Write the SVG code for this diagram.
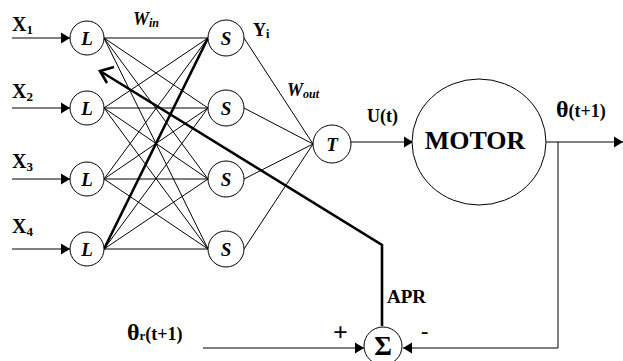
<svg xmlns="http://www.w3.org/2000/svg" width="623" height="361" viewBox="0 0 623 361">
<defs>
<style>
text{font-family:"Liberation Serif","Times New Roman",serif;font-weight:bold;fill:#000}
.node{fill:#fff;stroke:#000;stroke-width:1}
.nl{font-style:italic;font-size:19px;text-anchor:middle}
.w{fill:none;stroke:#000;stroke-width:1}
.thick{fill:none;stroke:#000;stroke-width:2.6}
.lbl{font-size:20px}
.sub{font-size:13px}
</style>
<marker id="ah" viewBox="0 0 10 12" refX="10" refY="6" markerWidth="9" markerHeight="12" markerUnits="userSpaceOnUse" orient="auto">
<path d="M0,0 L10,6 L0,12 z" fill="#000"/>
</marker>
</defs>

<g id="connectors">
<line class="w" x1="12" y1="38" x2="70" y2="38" marker-end="url(#ah)"/>
<line class="w" x1="12" y1="108" x2="70" y2="108" marker-end="url(#ah)"/>
<line class="w" x1="12" y1="179" x2="70" y2="179" marker-end="url(#ah)"/>
<line class="w" x1="12" y1="249" x2="70" y2="249" marker-end="url(#ah)"/>
<line class="w" x1="104" y1="38" x2="208" y2="38"/>
<line class="w" x1="104" y1="38" x2="208" y2="108"/>
<line class="w" x1="104" y1="38" x2="208" y2="179"/>
<line class="w" x1="104" y1="38" x2="208" y2="249"/>
<line class="w" x1="104" y1="108" x2="208" y2="38"/>
<line class="w" x1="104" y1="108" x2="208" y2="108"/>
<line class="w" x1="104" y1="108" x2="208" y2="179"/>
<line class="w" x1="104" y1="108" x2="208" y2="249"/>
<line class="w" x1="104" y1="179" x2="208" y2="38"/>
<line class="w" x1="104" y1="179" x2="208" y2="108"/>
<line class="w" x1="104" y1="179" x2="208" y2="179"/>
<line class="w" x1="104" y1="179" x2="208" y2="249"/>
<line class="thick" x1="104" y1="249" x2="208" y2="38"/>
<line class="w" x1="104" y1="249" x2="208" y2="108"/>
<line class="w" x1="104" y1="249" x2="208" y2="179"/>
<line class="w" x1="104" y1="249" x2="208" y2="249"/>
<line class="w" x1="244" y1="38" x2="313" y2="144"/>
<line class="w" x1="244" y1="108" x2="313" y2="144"/>
<line class="w" x1="244" y1="179" x2="313" y2="144"/>
<line class="w" x1="244" y1="249" x2="313" y2="144"/>
<line class="w" x1="351" y1="142" x2="413" y2="142" marker-end="url(#ah)"/>
<line class="w" x1="546" y1="142" x2="623" y2="142" marker-end="url(#ah)"/>
<polyline class="w" points="558,142 558,348 403,348" marker-end="url(#ah)"/>
<line class="w" x1="203" y1="348" x2="364" y2="348" marker-end="url(#ah)"/>
<polyline class="thick" points="382,326 382,245 100,71"/>
<polyline class="thick" points="114,67 100,71 107,83"/>
</g>

<g id="L1"><circle class="node" cx="87" cy="38" r="17"/><text class="nl" x="87" y="45">L</text></g>
<g id="L2"><circle class="node" cx="87" cy="108" r="17"/><text class="nl" x="87" y="115">L</text></g>
<g id="L3"><circle class="node" cx="87" cy="179" r="17"/><text class="nl" x="87" y="186">L</text></g>
<g id="L4"><circle class="node" cx="87" cy="249" r="17"/><text class="nl" x="87" y="256">L</text></g>

<g id="S1"><circle class="node" cx="226" cy="38" r="18"/><text class="nl" x="226" y="45">S</text></g>
<g id="S2"><circle class="node" cx="226" cy="108" r="18"/><text class="nl" x="226" y="115">S</text></g>
<g id="S3"><circle class="node" cx="226" cy="179" r="18"/><text class="nl" x="226" y="186">S</text></g>
<g id="S4"><circle class="node" cx="226" cy="249" r="18"/><text class="nl" x="226" y="256">S</text></g>

<g id="T"><circle class="node" cx="332" cy="144" r="19"/><text class="nl" x="332" y="151">T</text></g>

<g id="MOTOR"><ellipse class="node" stroke-width="1.4" cx="479" cy="142" rx="67" ry="63"/><text x="475" y="149" font-size="26" text-anchor="middle">MOTOR</text></g>

<g id="SUM"><circle class="node" stroke-width="2" cx="383" cy="346" r="19"/><text x="383" y="355" font-size="27" text-anchor="middle">Σ</text></g>

<g id="labels">
<text class="lbl" x="12" y="31">X<tspan class="sub" dy="3">1</tspan></text>
<text class="lbl" x="12" y="98">X<tspan class="sub" dy="3">2</tspan></text>
<text class="lbl" x="12" y="168">X<tspan class="sub" dy="3">3</tspan></text>
<text class="lbl" x="12" y="233">X<tspan class="sub" dy="3">4</tspan></text>
<text x="133" y="25" font-size="18" font-style="italic">W<tspan font-size="12" dy="2">in</tspan></text>
<text x="253" y="36" font-size="18">Y<tspan font-size="12" dy="2">i</tspan></text>
<text x="287" y="96" font-size="18" font-style="italic">W<tspan font-size="12" dy="2">out</tspan></text>
<text x="367" y="122" font-size="18">U(t)</text>
<text x="556" y="117" font-size="24">θ<tspan font-size="18">(t+1)</tspan></text>
<text x="387" y="303" font-size="19">APR</text>
<text x="127" y="340" font-size="24">θ<tspan font-size="13">r</tspan><tspan font-size="18">(t+1)</tspan></text>
<text x="333" y="341" font-size="26" font-weight="normal">+</text>
<text x="421" y="338" font-size="22">-</text>
</g>
</svg>
